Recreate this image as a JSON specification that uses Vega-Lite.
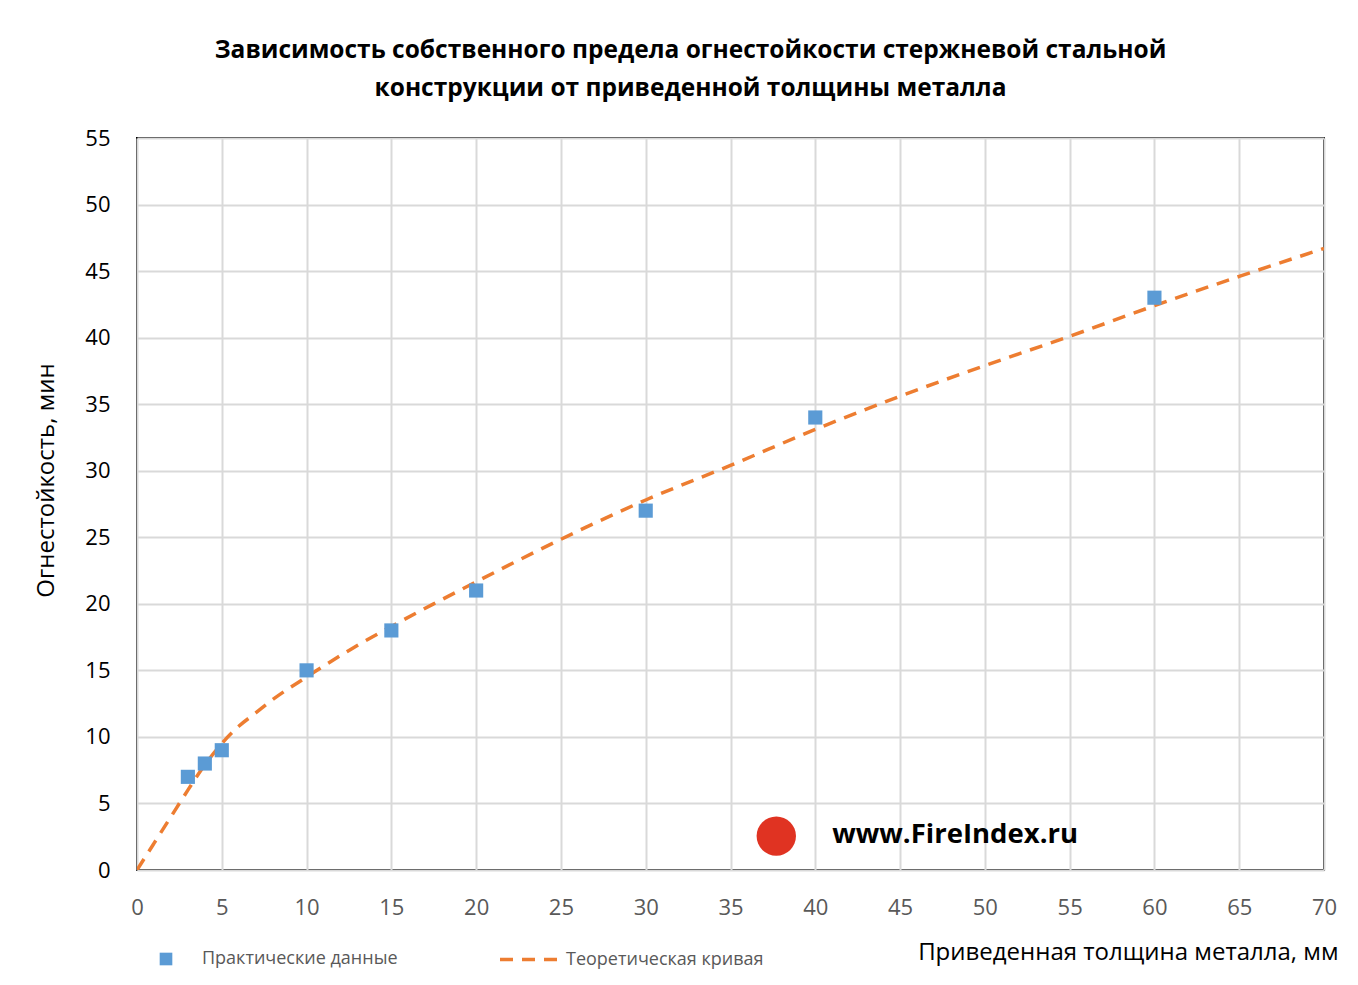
{
  "$schema": "https://vega.github.io/schema/vega-lite/v6.json",
  "width": 1187,
  "height": 732,
  "autosize": {"type": "none"},
  "padding": {"left": 137, "top": 138, "right": 34, "bottom": 115},
  "background": "white",
  "config": {
    "font": "Open Sans",
    "view": {"stroke": "#000000", "strokeWidth": 2},
    "axis": {"grid": true, "gridColor": "#d9d9d9", "gridWidth": 2, "domain": false, "ticks": false}
  },
  "title": {
    "text": ["Зависимость собственного предела огнестойкости стержневой стальной", "конструкции от приведенной толщины металла"],
    "font": "Open Sans",
    "fontSize": 24.5,
    "fontWeight": "bold",
    "color": "#000000",
    "anchor": "middle",
    "frame": "group",
    "dx": -40,
    "lineHeight": 38,
    "offset": 26
  },
  "encoding": {
    "x": {
      "field": "x", "type": "quantitative",
      "scale": {"domain": [0, 70], "nice": false, "zero": false},
      "axis": {
        "values": [0, 5, 10, 15, 20, 25, 30, 35, 40, 45, 50, 55, 60, 65, 70],
        "labelFontSize": 22, "labelColor": "#595959", "labelPadding": 27,
        "labelFlush": false,
        "title": "Приведенная толщина металла, мм",
        "titleFontSize": 24, "titleFontWeight": "normal", "titleColor": "#000000",
        "titleAnchor": "end", "titleAlign": "right", "titleX": 1201, "titleY": 82, "titleBaseline": "middle"
      }
    },
    "y": {
      "field": "y", "type": "quantitative",
      "scale": {"domain": [0, 55], "nice": false},
      "axis": {
        "values": [0, 5, 10, 15, 20, 25, 30, 35, 40, 45, 50, 55],
        "labelFontSize": 22, "labelColor": "#000000", "labelPadding": 27,
        "labelFlush": false,
        "title": "Огнестойкость, мин",
        "titleFontSize": 24, "titleFontWeight": "normal", "titleColor": "#000000",
        "titleX": -91, "titleY": 342, "titleAngle": -90, "titleAlign": "center", "titleBaseline": "middle"
      }
    }
  },
  "layer": [
    {
      "data": {"values": [
        {"x": 0, "y": 0, "series": "Теоретическая кривая"},
        {"x": 1, "y": 2.0, "series": "Теоретическая кривая"},
        {"x": 2, "y": 4.0, "series": "Теоретическая кривая"},
        {"x": 3, "y": 6.0, "series": "Теоретическая кривая"},
        {"x": 4, "y": 7.9, "series": "Теоретическая кривая"},
        {"x": 5, "y": 9.5, "series": "Теоретическая кривая"},
        {"x": 6, "y": 10.8, "series": "Теоретическая кривая"},
        {"x": 7, "y": 11.8, "series": "Теоретическая кривая"},
        {"x": 8, "y": 12.8, "series": "Теоретическая кривая"},
        {"x": 10, "y": 14.5, "series": "Теоретическая кривая"},
        {"x": 12.5, "y": 16.5, "series": "Теоретическая кривая"},
        {"x": 15, "y": 18.3, "series": "Теоретическая кривая"},
        {"x": 17.5, "y": 20.0, "series": "Теоретическая кривая"},
        {"x": 20, "y": 21.65, "series": "Теоретическая кривая"},
        {"x": 25, "y": 24.85, "series": "Теоретическая кривая"},
        {"x": 30, "y": 27.8, "series": "Теоретическая кривая"},
        {"x": 35, "y": 30.4, "series": "Теоретическая кривая"},
        {"x": 40, "y": 33.1, "series": "Теоретическая кривая"},
        {"x": 45, "y": 35.6, "series": "Теоретическая кривая"},
        {"x": 50, "y": 37.9, "series": "Теоретическая кривая"},
        {"x": 55, "y": 40.1, "series": "Теоретическая кривая"},
        {"x": 60, "y": 42.4, "series": "Теоретическая кривая"},
        {"x": 65, "y": 44.6, "series": "Теоретическая кривая"},
        {"x": 70, "y": 46.7, "series": "Теоретическая кривая"}
      ]},
      "mark": {"type": "line", "color": "#ed7d31", "strokeWidth": 3.5, "interpolate": "monotone", "clip": true},
      "encoding": {
        "strokeDash": {
          "field": "series", "type": "nominal",
          "scale": {"domain": ["Теоретическая кривая"], "range": [[13, 9]]},
          "legend": {
            "title": null, "orient": "none", "legendX": 361, "legendY": 790, "padding": 0,
            "symbolType": "stroke", "symbolSize": 3481, "symbolStrokeWidth": 3.5,
            "symbolStrokeColor": "#ed7d31", "symbolDash": [13, 9],
            "labelFontSize": 18, "labelColor": "#595959", "labelOffset": 5, "labelFont": "Open Sans", "labelLimit": 0
          }
        }
      }
    },
    {
      "data": {"values": [
        {"x": 3, "y": 7, "series": "Практические данные"},
        {"x": 4, "y": 8, "series": "Практические данные"},
        {"x": 5, "y": 9, "series": "Практические данные"},
        {"x": 10, "y": 15, "series": "Практические данные"},
        {"x": 15, "y": 18, "series": "Практические данные"},
        {"x": 20, "y": 21, "series": "Практические данные"},
        {"x": 30, "y": 27, "series": "Практические данные"},
        {"x": 40, "y": 34, "series": "Практические данные"},
        {"x": 60, "y": 43, "series": "Практические данные"}
      ]},
      "mark": {"type": "point", "filled": true, "opacity": 1, "size": 200, "color": "#5b9bd5"},
      "encoding": {
        "shape": {
          "field": "series", "type": "nominal",
          "scale": {"domain": ["Практические данные"], "range": ["square"]},
          "legend": {
            "title": null, "orient": "none", "legendX": 20, "legendY": 812, "padding": 0,
            "symbolSize": 160, "symbolFillColor": "#5b9bd5", "symbolStrokeWidth": 0, "symbolOpacity": 1,
            "labelFontSize": 18, "labelColor": "#595959", "labelOffset": 27, "labelFont": "Open Sans", "labelLimit": 0
          }
        }
      }
    },
    {
      "data": {"values": [{"x": 37.7, "y": 2.55}]},
      "mark": {"type": "point", "filled": true, "opacity": 1, "size": 1550, "color": "#e03322", "shape": "circle"}
    },
    {
      "data": {"values": [{"x": 41.0, "y": 2.6, "label": "www.FireIndex.ru"}]},
      "mark": {"type": "text", "align": "left", "baseline": "middle", "font": "Open Sans", "fontSize": 27.5, "fontWeight": "bold", "color": "#000000"},
      "encoding": {"text": {"field": "label", "type": "nominal"}}
    }
  ]
}
